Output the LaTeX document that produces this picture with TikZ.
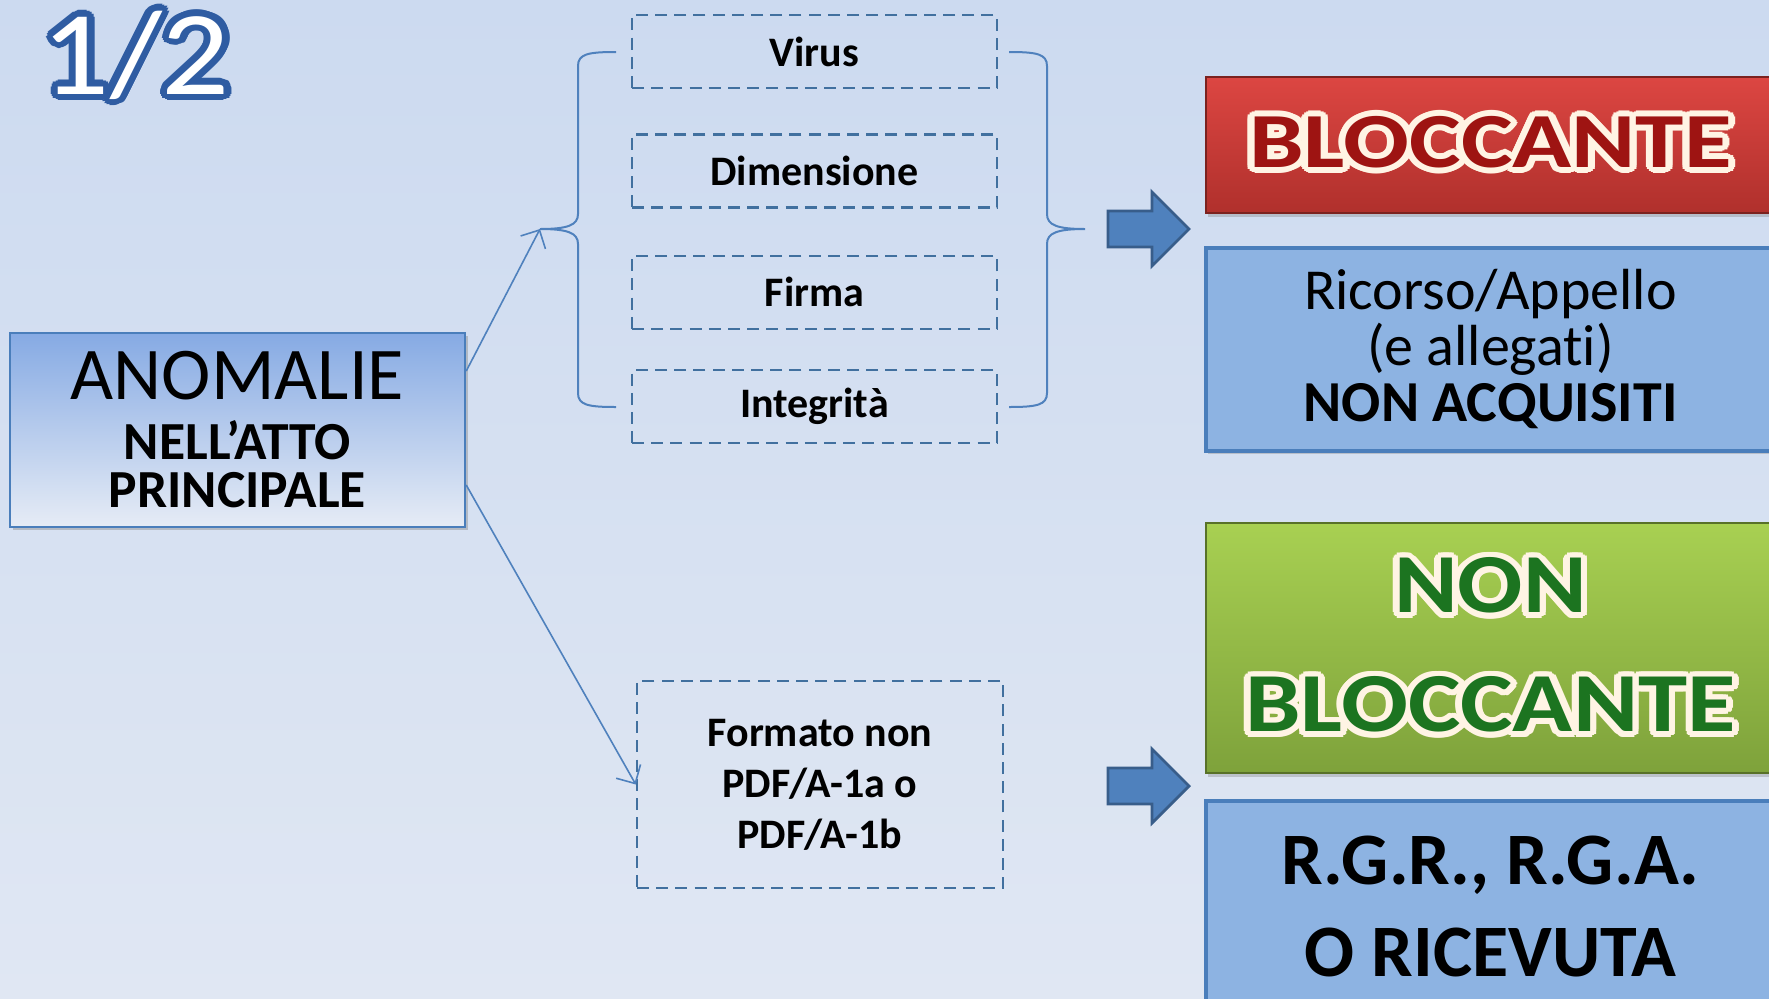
\documentclass[tikz,border=0pt]{standalone}
\usepackage{fontspec}
\setmainfont{Carlito}[Ligatures=NoCommon]
\usepackage{contour}
\usetikzlibrary{positioning,calc,shadows,arrows.meta}

\definecolor{bgtop}{HTML}{CCDAF0}
\definecolor{bgbot}{HTML}{E0E7F3}
\definecolor{linkblue}{HTML}{4F81BD}
\definecolor{dashblue}{HTML}{41709F}
\definecolor{boxblue}{HTML}{8DB3E2}
\definecolor{edgeblue}{HTML}{4A7EBB}
\definecolor{arrowedge}{HTML}{385D8A}
\definecolor{titleblue}{HTML}{2F5CA2}
\definecolor{redtop}{HTML}{DC4642}
\definecolor{redbot}{HTML}{B0302C}
\definecolor{greentop}{HTML}{A8D052}
\definecolor{greenbot}{HTML}{7EA23B}
\definecolor{darkred}{HTML}{9E1412}
\definecolor{darkgreen}{HTML}{1C7420}
\definecolor{cream}{HTML}{FFF4E4}

\tikzset{
  check/.style={draw=dashblue, dash pattern=on 3pt off 1.8pt, line width=0.6pt,
    minimum width=91.25pt, minimum height=18.25pt, inner sep=0pt,
    font=\fontsize{10.5}{12}\selectfont\bfseries},
  outcome/.style={draw=edgeblue, line width=1pt, fill=boxblue, minimum width=142.25pt,
    inner sep=0pt, align=center,
    drop shadow={shadow xshift=0.6pt, shadow yshift=-0.9pt, opacity=0.35}},
  verdict/.style={draw=#1, line width=0.4pt, minimum width=142.25pt,
    inner sep=0pt, align=center,
    drop shadow={shadow xshift=0.6pt, shadow yshift=-0.9pt, opacity=0.35}},
  thinlink/.style={draw=linkblue, line width=0.4pt, -{Straight Barb[length=3.5pt,width=7pt]}},
  brace/.style={draw=linkblue, line width=0.5pt}
}
\contourlength{1.4pt}

\begin{document}
\begin{tikzpicture}[x=0.25pt, y=-0.25pt]
  \useasboundingbox (0,0) rectangle (1769,998);
  \clip (0,0) rectangle (1769,998);
  \fill[top color=bgtop, bottom color=bgbot] (0,0) rectangle (1769,998);

  \node[font=\fontsize{30}{30}\selectfont, text=white, anchor=base] (title) at (136,94)
    {\scalebox{1.12}[1]{\contourlength{1.6pt}\contour{titleblue}{1/2}}};

  \node[draw=edgeblue, line width=0.6pt, top color=boxblue!95!blue, bottom color=bgbot!80!white,
        minimum width=113.75pt, minimum height=48.5pt, inner sep=0pt, align=center,
        font=\fontsize{13.4}{12}\selectfont\bfseries,
        drop shadow={shadow xshift=0.8pt, shadow yshift=-0.8pt, opacity=0.4}] (main) at (237.5,430)
    {{\fontsize{18.6}{20}\selectfont\mdseries ANOMALIE}\\[3pt] NELL’ATTO\\ PRINCIPALE};

  \node[check] (virus) at (814.5,51.5) {Virus};
  \node[check, below=11pt of virus] (dimens) {Dimensione};
  \node[check, below=11.5pt of dimens] (firma) {Firma};
  \node[check, below=9.75pt of firma] (integr) {Integrità};

  \node[check, minimum width=91.5pt, minimum height=51.75pt, align=center,
        font=\fontsize{10.5}{12.75}\selectfont\bfseries] (formato) at (820,784.5)
    {Formato non\\ PDF/A-1a o\\ PDF/A-1b};

  % braces round the four checks
  \coordinate (lbrace) at (540,229);
  \coordinate (rbrace) at (1085,229);
  \draw[brace] (616,52) .. controls (588,52) and (578,54) .. (578,66) -- (578,214)
    .. controls (578,225) and (568,229) .. (lbrace)
    .. controls (568,229) and (578,233) .. (578,244) -- (578,393)
    .. controls (578,405) and (588,407) .. (616,407);
  \draw[brace] (1009,52) .. controls (1037,52) and (1047,54) .. (1047,66) -- (1047,214)
    .. controls (1047,225) and (1057,229) .. (rbrace)
    .. controls (1057,229) and (1047,233) .. (1047,244) -- (1047,393)
    .. controls (1047,405) and (1037,407) .. (1009,407);

  \draw[thinlink] ($(main.north east)!0.2!(main.south east)$) -- (lbrace);
  \draw[thinlink] ($(main.north east)!0.78!(main.south east)$) -- (formato.west);

  % fat arrows
  \foreach \y in {229,786}
    \draw[fill=linkblue, draw=arrowedge, line width=0.7pt]
      (1108,\y-18) -- (1152,\y-18) -- (1152,\y-37) -- (1189,\y) -- (1152,\y+37)
      -- (1152,\y+18) -- (1108,\y+18) -- cycle;

  \node[verdict=redbot!70!black, top color=redtop, bottom color=redbot,
        minimum height=34pt, font=\fontsize{19.5}{20}\selectfont\bfseries, text=darkred] (block) at (1490.5,145)
    {\scalebox{1.25}[1]{\contour{cream}{BLOCCANTE}}};
  \node[outcome, below=8pt of block, minimum height=50.75pt,
        font=\fontsize{14.5}{14}\selectfont] (notacq)
    {Ricorso/Appello\\ (e allegati)\\ \textbf{NON ACQUISITI}};

  \node[verdict=greenbot!70!black, top color=greentop, bottom color=greenbot,
        minimum height=62.5pt, font=\fontsize{21}{29.75}\selectfont\bfseries, text=darkgreen] (noblock) at (1490.5,648)
    {\scalebox{1.15}[1]{\contour{cream}{NON}}\\ \scalebox{1.18}[1]{\contour{cream}{BLOCCANTE}}};
  \node[outcome, below=6.25pt of noblock, minimum height=53pt,
        font=\fontsize{18.5}{23}\selectfont\bfseries] (ricevuta)
    {R.G.R., R.G.A.\\ O RICEVUTA};
\end{tikzpicture}
\end{document}
